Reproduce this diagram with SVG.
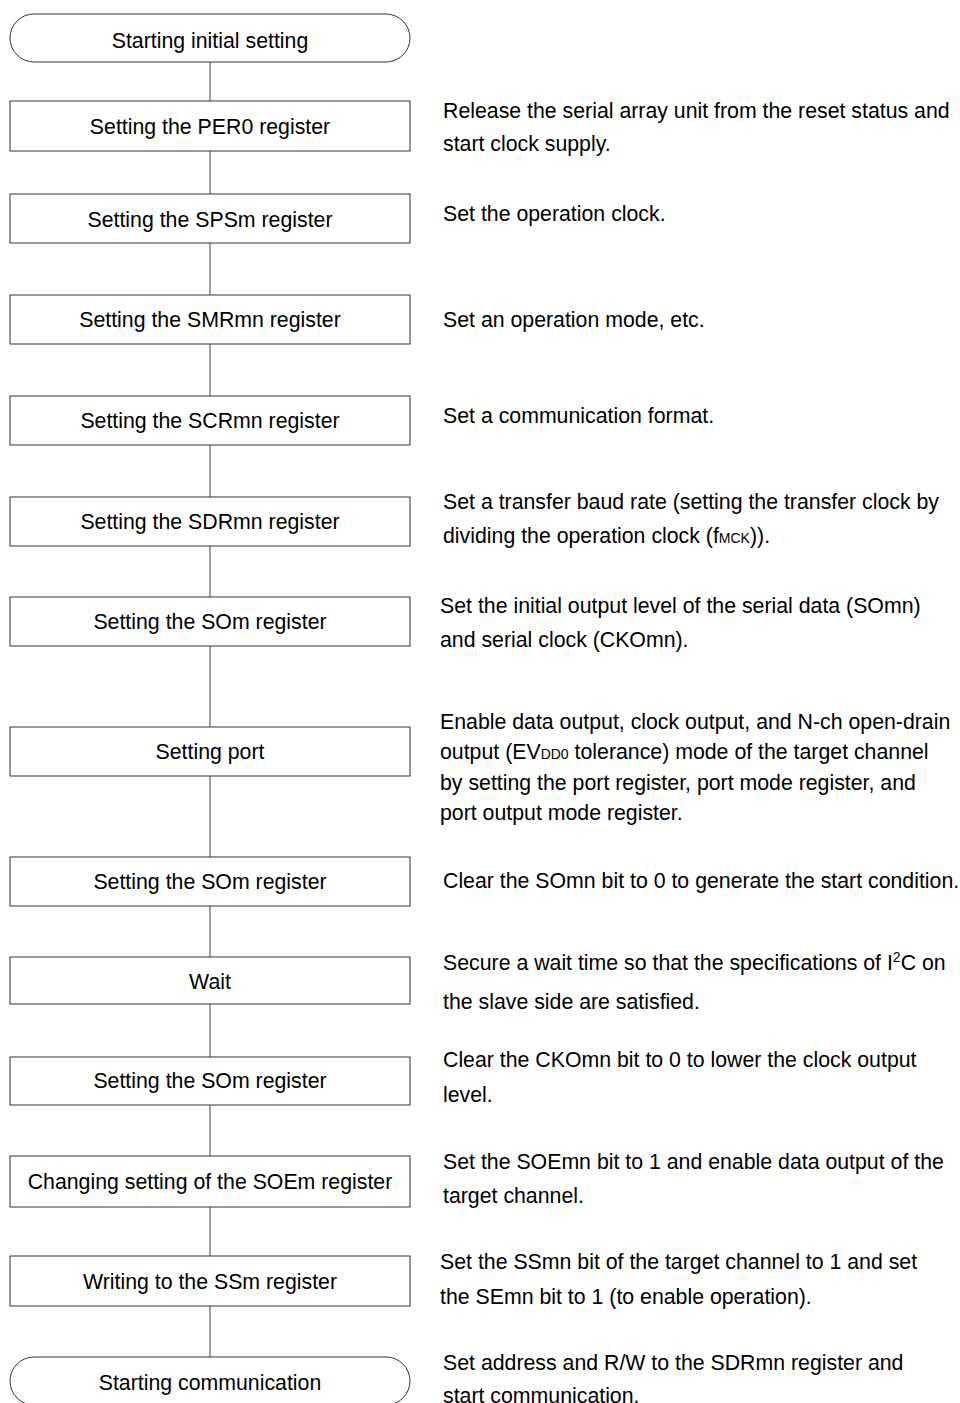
<svg xmlns="http://www.w3.org/2000/svg" width="960" height="1403" viewBox="0 0 960 1403">
<style>
.box{fill:#fff;stroke:#333;stroke-width:1}
.c{stroke:#444;stroke-width:1;fill:none}
.t{font-family:"Liberation Sans",Arial,sans-serif;font-size:21.3px;fill:#000}
.m{text-anchor:middle}
.s{font-size:14px}
</style>
<rect width="960" height="1403" fill="#fff"/>
<g id="connectors">
<line class="c" x1="210" y1="62" x2="210" y2="101"/>
<line class="c" x1="210" y1="151" x2="210" y2="194"/>
<line class="c" x1="210" y1="243" x2="210" y2="295"/>
<line class="c" x1="210" y1="344" x2="210" y2="396"/>
<line class="c" x1="210" y1="445" x2="210" y2="497"/>
<line class="c" x1="210" y1="546" x2="210" y2="597"/>
<line class="c" x1="210" y1="646" x2="210" y2="727"/>
<line class="c" x1="210" y1="776" x2="210" y2="857"/>
<line class="c" x1="210" y1="906" x2="210" y2="957"/>
<line class="c" x1="210" y1="1004" x2="210" y2="1057"/>
<line class="c" x1="210" y1="1105" x2="210" y2="1156"/>
<line class="c" x1="210" y1="1207" x2="210" y2="1256"/>
<line class="c" x1="210" y1="1306" x2="210" y2="1357"/>
</g>
<g id="n0"><rect class="box" x="10" y="14" width="400" height="48" rx="24" ry="24"/><text class="t m" x="210" y="48">Starting initial setting</text></g>
<g id="n1"><rect class="box" x="10" y="101" width="400" height="50"/><text class="t m" x="210" y="134">Setting the PER0 register</text></g>
<g id="n2"><rect class="box" x="10" y="194" width="400" height="49"/><text class="t m" x="210" y="227">Setting the SPSm register</text></g>
<g id="n3"><rect class="box" x="10" y="295" width="400" height="49"/><text class="t m" x="210" y="327">Setting the SMRmn register</text></g>
<g id="n4"><rect class="box" x="10" y="396" width="400" height="49"/><text class="t m" x="210" y="428">Setting the SCRmn register</text></g>
<g id="n5"><rect class="box" x="10" y="497" width="400" height="49"/><text class="t m" x="210" y="529">Setting the SDRmn register</text></g>
<g id="n6"><rect class="box" x="10" y="597" width="400" height="49"/><text class="t m" x="210" y="629">Setting the SOm register</text></g>
<g id="n7"><rect class="box" x="10" y="727" width="400" height="49"/><text class="t m" x="210" y="759">Setting port</text></g>
<g id="n8"><rect class="box" x="10" y="857" width="400" height="49"/><text class="t m" x="210" y="889">Setting the SOm register</text></g>
<g id="n9"><rect class="box" x="10" y="957" width="400" height="47"/><text class="t m" x="210" y="989">Wait</text></g>
<g id="n10"><rect class="box" x="10" y="1057" width="400" height="48"/><text class="t m" x="210" y="1088">Setting the SOm register</text></g>
<g id="n11"><rect class="box" x="10" y="1156" width="400" height="51"/><text class="t m" x="210" y="1189">Changing setting of the SOEm register</text></g>
<g id="n12"><rect class="box" x="10" y="1256" width="400" height="50"/><text class="t m" x="210" y="1289">Writing to the SSm register</text></g>
<g id="n13"><rect class="box" x="10" y="1357" width="400" height="48" rx="24" ry="24"/><text class="t m" x="210" y="1390">Starting communication</text></g>
<g id="notes">
<text class="t" x="443" y="118">Release the serial array unit from the reset status and</text>
<text class="t" x="443" y="151">start clock supply.</text>
<text class="t" x="443" y="221">Set the operation clock.</text>
<text class="t" x="443" y="327">Set an operation mode, etc.</text>
<text class="t" x="443" y="423">Set a communication format.</text>
<text class="t" x="443" y="509">Set a transfer baud rate (setting the transfer clock by</text>
<text class="t" x="443" y="543">dividing the operation clock (f<tspan class="s">MCK</tspan>)).</text>
<text class="t" x="440" y="613">Set the initial output level of the serial data (SOmn)</text>
<text class="t" x="440" y="647">and serial clock (CKOmn).</text>
<text class="t" x="440" y="729">Enable data output, clock output, and N-ch open-drain</text>
<text class="t" x="440" y="759">output (EV<tspan class="s">DD0</tspan> tolerance) mode of the target channel</text>
<text class="t" x="440" y="790">by setting the port register, port mode register, and</text>
<text class="t" x="440" y="820">port output mode register.</text>
<text class="t" x="443" y="888">Clear the SOmn bit to 0 to generate the start condition.</text>
<text class="t" x="443" y="970">Secure a wait time so that the specifications of I<tspan class="s" dy="-8">2</tspan><tspan dy="8">C on</tspan></text>
<text class="t" x="443" y="1009">the slave side are satisfied.</text>
<text class="t" x="443" y="1067">Clear the CKOmn bit to 0 to lower the clock output</text>
<text class="t" x="443" y="1102">level.</text>
<text class="t" x="443" y="1169">Set the SOEmn bit to 1 and enable data output of the</text>
<text class="t" x="443" y="1203">target channel.</text>
<text class="t" x="440" y="1269">Set the SSmn bit of the target channel to 1 and set</text>
<text class="t" x="440" y="1304">the SEmn bit to 1 (to enable operation).</text>
<text class="t" x="443" y="1370">Set address and R/W to the SDRmn register and</text>
<text class="t" x="443" y="1403">start communication.</text>
</g>
</svg>
